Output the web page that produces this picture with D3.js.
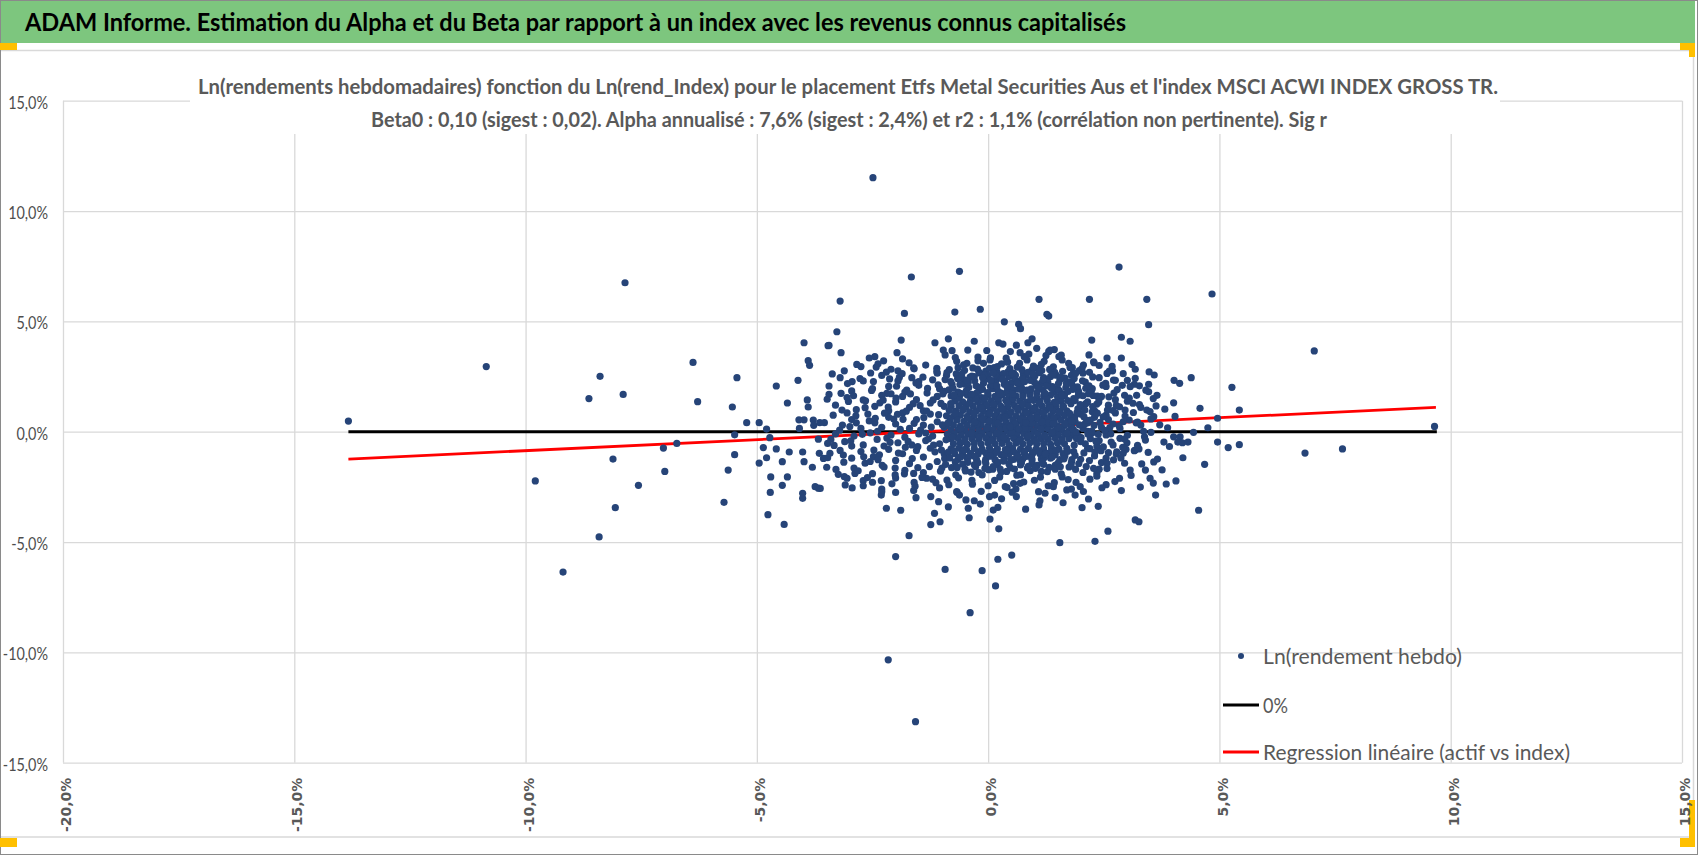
<!DOCTYPE html>
<html>
<head>
<meta charset="utf-8">
<script src="https://cdn.jsdelivr.net/npm/d3@7"></script>
<style>
  body { margin: 0; background: #fff; }
  svg { display: block; }
</style>
</head>
<body>
<svg width="1698" height="855"></svg>
<script>
// ---- data (values in %) ----
const headerText = "ADAM Informe. Estimation du Alpha et du Beta par rapport à un index avec les revenus connus capitalisés"
const titleLine1 = "Ln(rendements hebdomadaires) fonction du Ln(rend_Index) pour le placement Etfs Metal Securities Aus et l'index MSCI ACWI INDEX GROSS TR."
const titleLine2 = "Beta0 : 0,10 (sigest : 0,02).  Alpha annualisé : 7,6% (sigest : 2,4%) et r2 : 1,1% (corrélation non pertinente). Sig r"
const legendLabels = ["Ln(rendement hebdo)", "0%", "Regression linéaire (actif vs index)"]

const xTicks = [-20, -15, -10, -5, 0, 5, 10, 15]
const yTicks = [-15, -10, -5, 0, 5, 10, 15]

const zeroX = [-13.83, 9.70]
const zeroY = [0, 0]
const regX = [-13.83, 9.68]
const regY = [-1.24, 1.10]

// isolated points, read one by one
const outerPoints = [
  [-13.83,0.48],[-10.85,2.95],[-7.85,6.75],[-8.39,2.51],[-8.63,1.50],[-7.89,1.69],[-6.38,3.14],[-5.43,2.45],
  [-6.28,1.36],[-5.53,1.12],[-5.22,0.41],[-4.95,0.41],[-4.79,0.12],[-5.48,-0.14],[-4.72,-0.27],[-6.73,-0.53],
  [-7.02,-0.74],[-8.11,-1.24],[-6.99,-1.80],[-9.79,-2.23],[-7.56,-2.43],[-8.06,-3.44],[-8.41,-4.77],[-9.19,-6.36],
  [-5.48,-1.04],[-5.62,-1.74],[-5.71,-3.20],[-4.86,-0.72],[-4.79,-1.18],[-4.95,-1.42],[-4.58,-0.78],[-4.45,-1.36],
  [-4.30,-0.92],[-4.70,-2.05],[-4.34,-2.05],[-4.45,-2.43],[-4.71,-2.75],[-4.76,-3.76],[-4.41,-4.20],[-4.58,2.07],
  [-4.34,1.30],[-4.11,2.33],[-3.98,4.03],[-3.89,3.22],[-3.86,3.01],[-3.91,1.44],[-3.89,1.12],[-4.09,0.54],
  [-3.98,0.54],[-4.08,0.15],[-3.78,0.53],[-3.77,0.29],[-3.64,0.41],[-3.54,0.41],[-3.67,-0.34],[-3.47,-0.53],
  [-4.01,-0.92],[-3.98,-1.36],[-3.80,-1.61],[-3.65,-0.98],[-3.47,-1.18],[-3.49,-1.61],[-3.74,-2.49],[-3.67,-2.56],
  [-4.01,-2.79],[-4.01,-3.02],[-3.46,3.90],[-3.44,2.07],[-3.44,1.69],
  [-2.49,11.51],[-1.66,7.01],[-0.62,7.27],[2.83,7.46],[-3.20,5.92],[-1.81,5.36],[-0.72,5.42],[-0.17,5.55],
  [1.10,6.00],[2.19,6.00],[1.27,5.32],[1.31,5.24],[0.35,4.98],[0.66,4.87],[0.70,4.67],[-3.27,4.53],
  [-3.44,3.91],[-3.18,3.58],[-1.88,4.15],[-1.97,3.58],[-2.57,3.34],[-2.38,3.08],[-3.11,2.76],[-2.94,2.27],
  [-3.18,1.74],[2.24,4.15],[2.88,4.28],[3.07,4.10],[2.88,3.34],[2.57,3.34],[2.18,3.48],[2.28,3.17],
  [-0.86,4.21],[-1.15,4.03],[-0.30,4.10],[0.23,4.03],[0.32,3.97],[0.86,4.03],[0.95,4.21],[1.05,3.78],
  [1.31,3.64],[1.43,3.72],[1.53,3.40],
  [-1.57,-13.14],[-2.16,-10.34],[-0.39,-8.20],[0.16,-6.99],[-0.13,-6.30],[-0.93,-6.24],[-2.00,-5.66],[0.21,-5.78],
  [0.51,-5.59],[-1.71,-4.71],[1.55,-5.03],[2.31,-4.97],[2.59,-4.51],[3.18,-4.00],[3.26,-4.08],[0.23,-4.40],
  [-1.24,-4.21],[-1.04,-4.08],[-1.16,-3.70],[-0.41,-3.90],[0.04,-3.96],[-2.20,-3.47],[-1.89,-3.56],[0.11,-3.55],
  [0.21,-3.43],[2.03,-3.44],[2.38,-3.38],[1.10,-3.32],[1.12,-3.13],[-2.94,-2.55],[-2.31,-2.87],[-2.00,-2.75],
  [-1.61,-2.67],[-1.56,-2.99],[-1.24,-2.94],[-1.07,-3.17],[-0.67,-2.75],[-0.48,-3.09],[-0.30,-3.13],[0.03,-2.94],
  [0.14,-2.87],[0.61,-2.94],[1.45,-2.99],[1.88,-2.87],[2.17,-3.05],[2.84,-2.11],[3.07,-1.74],[-3.63,-2.57],
  [-3.29,-1.71],[-3.24,-1.93],[-3.11,-2.04],[-3.05,-2.11],[-2.88,-1.89],[-2.70,-2.22],[-2.50,-2.29],[-2.66,-1.43],
  [2.98,-0.80],[3.18,-0.83],[2.92,-0.98],[2.77,-1.01],[2.71,-1.28],[2.95,-1.43],
  [4.84,6.24],[3.43,6.00],[3.47,4.85],[7.05,3.66],[2.69,2.76],[3.18,2.83],[3.59,2.57],[4.39,2.45],
  [4.02,2.33],[4.14,2.19],[5.27,2.01],[3.47,2.15],[3.27,2.08],[3.16,2.15],[3.01,2.33],[2.75,2.33],
  [2.54,2.19],[3.65,1.65],[3.57,1.50],[3.47,1.81],[4.01,1.31],[4.58,1.06],[5.43,0.98],[4.96,0.61],
  [3.58,0.68],[3.43,0.98],[3.50,0.91],[9.65,0.24],[3.88,0.18],[4.75,0.18],[4.44,-0.03],[3.52,-0.03],
  [4.01,-0.23],[4.15,-0.23],[4.10,-0.47],[4.20,-0.50],[4.32,-0.47],[3.80,-0.47],[4.96,-0.47],[5.19,-0.72],
  [5.43,-0.59],[6.85,-0.97],[7.66,-0.78],[4.68,-1.48],[3.58,-1.37],[3.66,-1.24],[3.40,-1.74],[3.50,-2.11],
  [3.85,-2.37],[4.06,-2.23],[3.62,-2.87],[4.55,-3.56],[3.16,-0.86],[3.26,-0.78],[3.38,-0.23],[3.40,-0.38],
  [3.23,0.43],[3.05,0.53],[2.92,0.45],[3.01,1.38],[3.13,1.29],[3.21,1.65],[2.84,1.13],[2.96,0.98]
]

// upper part of the cloud (about +1,7% to +3,7%)
const cloudUpper = [
  [-2.10,2.83],[-1.95,2.76],[-1.92,2.46],[-1.61,2.89],[-1.50,2.27],[-1.35,3.02],[-1.11,2.87],[-0.97,3.70],
  [-0.93,3.48],[-0.78,3.67],[-0.68,3.19],[-0.44,3.70],[-0.46,3.10],[-0.22,3.38],[-0.10,3.10],[0.04,3.25],
  [0.19,2.71],[0.48,3.63],[0.69,3.58],[0.84,3.25],[1.05,2.87],[1.34,3.70],[1.41,2.94],[1.74,3.10],
  [1.84,2.64],[2.06,3.02],[2.57,2.64],[2.71,2.34],[3.07,2.04],[-2.48,2.27],[-2.70,1.44],[-3.02,1.37],
  [-2.19,1.74],[-1.76,1.89],
  [-2.75,2.95],[-2.20,2.70],[-1.85,3.30],[-1.60,2.85],[-1.10,2.65],[-0.65,2.90],[-0.20,2.70],[0.05,3.35],
  [0.20,2.95],[0.42,3.15],[0.55,2.65],[0.78,3.40],[0.95,2.80],[1.15,3.05],[1.38,2.70],[1.60,3.25],
  [1.82,2.90],[2.05,2.65],[2.40,3.00],[2.62,2.75],[-0.05,2.75],[0.68,3.10],[-2.45,3.40],[1.25,3.45],
  [-3.20,2.45],[-2.95,1.85],[-2.70,2.30],[-2.50,1.95],[-2.30,2.55],[-2.15,2.05],[-1.95,2.30],[-1.80,1.80],
  [-1.65,2.45],[-1.50,2.10],[-1.32,1.75],[-1.20,2.35],[-1.05,1.95],[-0.90,2.55],[-0.78,2.15],[-0.65,1.80],
  [-0.55,2.40],[-0.42,2.00],[-0.30,2.50],[-0.20,1.85],[-0.10,2.20],[0.00,2.55],[0.10,1.95],[0.18,2.35],
  [0.28,1.75],[0.35,2.15],[0.45,2.50],[0.55,1.90],[0.62,2.30],[0.72,2.00],[0.82,2.55],[0.90,1.80],
  [1.00,2.25],[1.10,1.95],[1.20,2.45],[1.30,2.10],[1.42,1.80],[1.55,2.35],[1.68,2.00],[1.80,2.55],
  [1.95,1.85],[2.10,2.25],[2.25,1.95],[2.40,2.45],[2.55,2.05],[2.72,1.75],[2.90,2.10],[-2.10,1.72],
  [0.40,1.78],[1.62,1.72],[-0.85,1.90],[-0.50,2.15],[-0.25,1.75],[0.05,2.05],[0.25,2.50],[0.50,2.20],
  [0.75,1.75],[0.95,2.40],[1.15,2.20],[1.35,2.50],[1.50,1.95],[1.75,2.25],[-0.60,2.55],[0.15,2.20],
  [1.05,1.75]
]

// dense middle of the cloud (about +1,7% to -0,7%)
const cloudMiddle = [
  [-3.30,1.20],[-3.05,1.55],[-2.85,1.00],[-2.65,1.40],[-2.45,1.15],[-2.30,1.65],[-2.15,0.95],[-2.00,1.35],
  [-1.85,1.60],[-1.70,1.10],[-1.55,1.45],[-1.40,0.95],[-1.25,1.30],[-1.10,1.60],[-0.95,1.15],
  [-0.80,1.62],[-0.62,1.58],[-0.45,1.66],[-0.30,1.60],[-0.15,1.55],[0.00,1.65],[0.15,1.60],[0.30,1.68],
  [0.45,1.57],[0.60,1.63],[0.75,1.60],[0.90,1.67],[1.05,1.56],[1.20,1.62],[1.35,1.66],[1.50,1.58],[1.65,1.64],
  [-0.72,1.40],[-0.55,1.35],[-0.38,1.42],[-0.22,1.37],[-0.08,1.33],[0.07,1.40],[0.22,1.36],[0.38,1.43],
  [0.52,1.35],[0.68,1.39],[0.83,1.34],[0.98,1.42],[1.12,1.37],[1.28,1.40],[1.43,1.33],[1.58,1.38],[1.72,1.41],
  [-0.80,1.15],[-0.63,1.18],[-0.48,1.12],[-0.33,1.17],[-0.18,1.13],[-0.03,1.19],[0.12,1.14],[0.27,1.16],
  [0.42,1.11],[0.57,1.18],[0.72,1.14],[0.87,1.17],[1.02,1.12],[1.17,1.16],[1.32,1.19],[1.47,1.13],[1.62,1.17],
  [-0.70,0.93],[-0.55,0.96],[-0.40,0.90],[-0.25,0.95],[-0.10,0.92],[0.05,0.97],[0.20,0.91],[0.35,0.94],
  [0.50,0.90],[0.65,0.96],[0.80,0.92],[0.95,0.95],[1.10,0.90],[1.25,0.97],[1.40,0.93],[1.55,0.91],[1.70,0.95],
  [1.85,1.50],[2.00,1.10],[2.15,1.35],[2.30,0.95],[2.45,1.60],[2.60,1.20],[2.75,1.45],[2.95,1.65],
  [3.30,1.10],[1.95,1.65],[2.35,1.25],
  [-3.35,0.75],[-3.15,0.30],[-2.95,0.55],[-2.75,0.15],[-2.60,0.80],[-2.45,0.40],[-2.30,0.20],[-2.15,0.65],
  [-2.00,0.35],[-1.85,0.85],[-1.70,0.15],[-1.55,0.55],[-1.40,0.30],[-1.25,0.80],[-1.10,0.45],[-0.95,0.20],
  [-3.05,0.85],[-2.85,0.40],
  [-0.90,0.72],[-0.75,0.70],[-0.60,0.75],[-0.45,0.69],[-0.30,0.73],[-0.15,0.70],[0.00,0.76],[0.15,0.71],
  [0.30,0.68],[0.45,0.74],[0.60,0.70],[0.75,0.73],[0.90,0.69],[1.05,0.75],[1.20,0.71],[1.35,0.72],
  [1.50,0.68],[1.65,0.74],[1.80,0.70],
  [-0.82,0.50],[-0.67,0.53],[-0.52,0.47],[-0.37,0.52],[-0.22,0.48],[-0.07,0.54],[0.08,0.49],[0.23,0.51],
  [0.38,0.46],[0.53,0.53],[0.68,0.49],[0.83,0.52],[0.98,0.47],[1.13,0.51],[1.28,0.54],[1.43,0.48],
  [1.58,0.52],[1.73,0.50],[1.88,0.46],
  [-0.90,0.28],[-0.75,0.30],[-0.60,0.25],[-0.45,0.29],[-0.30,0.26],[-0.15,0.31],[0.00,0.27],[0.15,0.29],
  [0.30,0.24],[0.45,0.30],[0.60,0.27],[0.75,0.32],[0.90,0.26],[1.05,0.28],[1.20,0.25],[1.35,0.30],
  [1.50,0.27],[1.65,0.29],[1.80,0.24],
  [-0.80,0.08],[-0.65,0.10],[-0.50,0.05],[-0.35,0.09],[-0.20,0.06],[-0.05,0.11],[0.10,0.07],[0.25,0.09],
  [0.40,0.04],[0.55,0.10],[0.70,0.06],[0.85,0.10],[1.00,0.05],[1.15,0.08],[1.30,0.11],[1.45,0.06],
  [1.60,0.09],[1.75,0.05],
  [2.00,0.80],[2.15,0.40],[2.30,0.65],[2.45,0.20],[2.60,0.55],[2.75,0.85],[2.85,0.15],[2.05,0.15],
  [2.25,0.90],[2.55,0.75],[3.30,0.30],[2.70,0.35],
  [-3.30,-0.10],[-3.10,-0.45],[-2.90,-0.20],[-2.70,-0.60],[-2.55,-0.05],[-2.40,-0.35],[-2.25,-0.65],[-2.10,-0.15],
  [-1.95,-0.50],[-1.80,-0.25],[-1.65,-0.60],[-1.50,-0.10],[-1.35,-0.40],[-1.20,-0.20],[-1.05,-0.55],[-2.95,-0.65],
  [-3.40,-0.35],
  [-0.88,-0.12],[-0.73,-0.10],[-0.58,-0.15],[-0.43,-0.11],[-0.28,-0.14],[-0.13,-0.09],[0.02,-0.13],[0.17,-0.11],
  [0.32,-0.16],[0.47,-0.10],[0.62,-0.13],[0.77,-0.08],[0.92,-0.14],[1.07,-0.12],[1.22,-0.15],[1.37,-0.10],
  [1.52,-0.13],[1.67,-0.11],[1.82,-0.16],
  [-0.80,-0.33],[-0.65,-0.30],[-0.50,-0.35],[-0.35,-0.31],[-0.20,-0.34],[-0.05,-0.29],[0.10,-0.33],[0.25,-0.31],
  [0.40,-0.36],[0.55,-0.30],[0.70,-0.33],[0.85,-0.28],[1.00,-0.34],[1.15,-0.32],[1.30,-0.35],[1.45,-0.30],
  [1.60,-0.33],[1.75,-0.31],
  [-0.75,-0.55],[-0.60,-0.52],[-0.45,-0.57],[-0.30,-0.53],[-0.15,-0.56],[0.00,-0.51],[0.15,-0.55],[0.30,-0.53],
  [0.45,-0.58],[0.60,-0.52],[0.75,-0.55],[0.90,-0.50],[1.05,-0.56],[1.20,-0.54],[1.35,-0.57],[1.50,-0.52],
  [1.65,-0.55],
  [1.95,-0.20],[2.10,-0.55],[2.25,-0.05],[2.40,-0.40],[2.55,-0.15],[2.70,-0.60],[2.85,-0.30],[2.00,-0.45],
  [2.35,-0.65],[2.65,-0.10],[3.00,-0.50]
]

// lower part of the cloud (about -0,7% to -2,7%)
const cloudLower = [
  [-3.20,-0.85],[-2.95,-1.20],[-2.75,-0.90],[-2.55,-1.35],[-2.35,-1.05],[-2.15,-0.80],[-2.00,-1.30],[-1.85,-1.00],
  [-1.70,-1.45],[-1.55,-0.85],[-1.40,-1.15],[-1.25,-0.75],[-1.10,-1.35],[-0.95,-1.00],
  [-0.80,-0.78],[-0.63,-0.75],[-0.47,-0.80],[-0.30,-0.76],[-0.13,-0.79],[0.03,-0.74],[0.20,-0.78],[0.37,-0.81],
  [0.53,-0.75],[0.70,-0.79],[0.87,-0.76],[1.03,-0.80],[1.20,-0.77],[1.37,-0.74],[1.53,-0.79],[1.70,-0.76],
  [-0.72,-1.00],[-0.55,-1.03],[-0.38,-0.98],[-0.22,-1.02],[-0.05,-0.97],[0.12,-1.01],[0.28,-1.04],[0.45,-0.99],
  [0.62,-1.02],[0.78,-0.97],[0.95,-1.03],[1.12,-1.00],[1.28,-0.98],[1.45,-1.03],[1.62,-0.99],
  [-0.65,-1.25],[-0.45,-1.22],[-0.25,-1.28],[-0.05,-1.24],[0.15,-1.27],[0.35,-1.21],[0.55,-1.26],[0.75,-1.23],
  [0.95,-1.28],[1.15,-1.24],[1.35,-1.20],[1.55,-1.27],
  [-0.55,-1.47],[-0.30,-1.50],[-0.05,-1.44],[0.20,-1.49],[0.45,-1.46],[0.70,-1.51],[0.95,-1.45],[1.20,-1.48],
  [1.45,-1.52],
  [1.85,-0.90],[2.00,-1.25],[2.15,-0.75],[2.30,-1.10],[2.45,-1.40],[2.60,-0.95],[1.80,-1.40],[2.40,-0.80],
  [2.55,-1.20],
  [-2.90,-1.65],[-2.50,-1.90],[-2.25,-1.60],[-2.00,-2.10],[-1.80,-1.75],[-1.60,-2.30],[-1.40,-1.85],[-1.20,-2.15],
  [-1.00,-1.65],[-0.85,-2.40],[-0.70,-1.95],[-0.50,-1.70],[-0.35,-2.20],[-0.20,-1.85],[0.00,-2.45],[0.10,-1.70],
  [0.25,-2.05],[0.40,-1.80],[0.55,-2.35],[0.70,-1.95],[0.85,-1.65],[1.00,-2.20],[1.15,-1.80],[1.30,-2.45],
  [1.45,-1.70],[1.60,-2.05],[1.75,-1.60],[1.90,-2.30],[2.05,-1.85],[2.20,-2.15],[2.40,-1.70],[2.55,-2.40],
  [-2.70,-2.45],[-1.05,-2.55],[0.60,-2.60],[1.80,-2.60],[-0.15,-2.70],[-2.30,-2.60],
  [-3.42,-0.98],[-3.13,-1.06],[-2.48,-1.13],[-2.30,-2.72],[-2.01,-1.96],[-1.61,-1.89],[-1.33,-2.11],[-0.89,-2.19],
  [-0.68,-2.72],[-0.43,-3.47],[0.37,-2.49],[0.69,-2.34],[1.09,-2.72],[1.41,-2.49],[1.70,-2.64],[1.99,-2.49],
  [2.35,-1.89],[2.57,-1.43],[2.78,-0.91]
]

// more points filling the cloud, placed irregularly
const cloudFill = [
  [-3.37,2.62],[-3.21,0.07],[-3.12,-1.38],[-3.04,2.18],[-2.97,-0.41],[-2.91,1.63],[-2.86,0.72],[-2.81,-1.77],
  [-2.77,2.41],[-2.72,-0.12],[-2.66,1.09],[-2.61,-2.08],[-2.57,0.49],[-2.52,1.87],[-2.47,-0.83],[-2.42,2.93],
  [-2.39,0.02],[-2.34,1.31],[-2.29,-1.52],[-2.24,0.84],[-2.19,-0.29],[-2.13,2.39],[-2.08,-2.36],[-2.04,0.57],
  [-1.99,1.52],[-1.94,-0.97],[-1.90,0.11],[-1.86,2.63],[-1.81,-1.91],[-1.77,0.93],[-1.73,-0.44],[-1.68,1.71],
  [-1.64,-1.22],[-1.60,0.38],[-1.56,2.21],[-1.52,-0.68],[-1.47,1.18],[-1.43,-2.07],[-1.39,0.64],[-1.35,-0.06],
  [-1.31,1.96],[-1.27,-1.58],[-1.23,0.21],[-1.19,1.44],[-1.15,-0.91],[-1.11,2.73],[-1.07,0.77],[-1.03,-1.79],
  [-0.99,0.31],[-0.95,1.83],[-3.48,1.47],[-3.33,-0.62],[-3.16,0.98],[-3.09,-2.41],[-2.99,0.23],[-2.69,-1.14],
  [-2.54,2.66],[-2.31,-2.22],[-2.16,1.12],[-2.01,-1.65],[-1.84,0.56],[-1.71,3.12],[-1.58,-2.47],[-1.41,2.47],
  [-1.29,-0.33],[-1.13,-2.31],[-1.02,1.28],[-3.56,-1.21],[-2.84,3.05],[-2.26,3.21],
  [-0.93,2.36],[-0.84,2.81],[-0.76,1.97],[-0.69,2.62],[-0.61,2.14],[-0.53,3.03],[-0.47,1.86],[-0.39,2.47],
  [-0.33,2.89],[-0.26,2.08],[-0.18,2.66],[-0.12,1.92],[-0.04,2.39],[0.03,2.87],[0.09,2.12],[0.16,2.58],
  [0.22,1.83],[0.29,3.07],[0.36,2.29],[0.43,2.71],[0.49,1.96],[0.57,2.43],[0.63,2.93],[0.69,2.16],
  [0.76,2.61],[0.84,1.88],[0.91,2.33],[0.98,2.97],[1.04,2.11],[1.11,2.68],[1.18,1.91],[1.26,2.37],
  [1.33,2.82],[1.39,2.04],[1.47,2.56],[1.54,1.86],[1.61,2.74],[1.69,2.19],[1.77,2.91],[1.86,2.41],
  [1.93,2.03],[-0.22,3.21],[0.39,3.33],[0.88,3.52],[1.58,3.47],[-0.71,3.36],[0.61,3.92],[-0.03,3.68],
  [1.21,3.19],[1.97,2.77],
  [-0.94,-1.21],[-0.86,-0.93],[-0.79,-1.63],[-0.71,-1.37],[-0.64,-2.09],[-0.56,-0.89],[-0.49,-1.78],[-0.42,-1.14],
  [-0.34,-2.38],[-0.27,-1.59],[-0.21,-0.91],[-0.13,-1.96],[-0.06,-1.33],[0.01,-1.72],[0.07,-0.88],[0.14,-2.21],
  [0.21,-1.39],[0.28,-1.83],[0.34,-1.07],[0.41,-2.53],[0.48,-1.64],[0.56,-0.92],[0.62,-1.97],[0.69,-1.31],
  [0.77,-2.28],[0.83,-1.12],[0.91,-1.77],[0.98,-0.94],[1.06,-1.53],[1.13,-2.06],[1.21,-1.18],[1.28,-1.81],
  [1.36,-0.91],[1.43,-2.31],[1.51,-1.42],[1.58,-1.91],[1.66,-1.09],[1.73,-2.17],[1.81,-1.27],[1.89,-1.71],
  [-0.62,-2.87],[0.29,-3.04],[1.23,-2.79],[-0.17,-3.28],[0.81,-3.51],[1.62,-3.22],[-0.86,-3.41],[0.52,-2.74],
  [2.03,2.87],[2.08,0.33],[2.12,-1.58],[2.17,1.72],[2.21,-0.31],[2.26,2.48],[2.31,0.79],[2.35,-2.02],
  [2.39,1.33],[2.44,-0.86],[2.48,2.11],[2.52,0.06],[2.57,-1.67],[2.61,1.58],[2.66,-0.47],[2.70,0.96],
  [2.74,-2.26],[2.79,1.91],[2.83,0.27],[2.87,-1.19],[2.92,2.63],[2.96,0.71],[3.01,-0.16],[3.05,1.52],
  [3.09,-1.98],[3.14,0.87],[3.18,2.42],[3.23,-0.62],[3.27,1.23],[3.32,-1.46],[3.36,0.02],[3.41,1.88],
  [3.46,-0.94],[3.52,0.58],[3.57,-2.33],[3.63,1.17],[2.06,-2.71],[2.29,3.13],[2.46,-2.54],[2.68,2.96],
  [2.88,-2.67],[3.11,3.04],[3.29,-2.51],[3.48,2.71],[3.71,0.31],[3.76,-1.73],[3.82,1.02],[3.92,-0.67],
  [4.04,0.69],[4.21,-1.18],[2.15,0.02],[2.58,0.98],[2.95,-0.33],[2.38,-0.12],[3.20,0.40],
  [-0.87,0.39],[-0.81,1.27],[-0.77,-0.23],[-0.71,0.83],[-0.66,1.51],[-0.59,0.14],[-0.54,1.03],[-0.51,-0.44],
  [-0.44,0.61],[-0.41,1.29],[-0.36,-0.07],[-0.31,0.87],[-0.27,1.47],[-0.24,0.35],[-0.19,-0.22],[-0.14,1.07],
  [-0.11,0.59],[-0.07,1.53],[-0.02,0.17],[0.04,0.83],[0.07,-0.42],[0.11,1.25],[0.14,0.41],[0.19,-0.06],
  [0.22,1.51],[0.26,0.62],[0.31,1.03],[0.34,-0.24],[0.39,0.19],[0.42,1.29],[0.46,0.81],[0.51,-0.03],
  [0.54,1.49],[0.58,0.37],[0.63,1.06],[0.67,-0.43],[0.71,0.58],[0.74,1.27],[0.79,0.16],[0.83,0.87],
  [0.86,-0.19],[0.92,1.46],[0.95,0.38],[0.99,1.04],[1.03,-0.44],[1.07,0.61],[1.11,1.29],[1.14,0.14],
  [1.19,0.86],[1.23,-0.21],[1.26,1.53],[1.31,0.41],[1.34,1.08],[1.39,-0.04],[1.42,0.63],[1.46,1.31],
  [1.51,0.19],[1.54,0.89],[1.59,-0.41],[1.63,1.12],[1.67,0.36],[1.71,-0.07],[1.76,0.83],[1.79,1.27],
  [1.84,0.11],[1.87,0.64],[1.91,-0.31],[1.94,1.04],[-0.91,-0.37],[-0.84,0.97],[0.48,0.22],[0.21,0.39],
  [0.93,0.62],[0.66,0.12],[1.17,0.44],[0.37,0.66],[0.81,0.41],[0.02,0.47],[-0.29,0.43],[1.41,0.37]
]

// extra points thickening the edges of the core
const cloudEdges = [
  [-1.08,2.12],[-0.98,1.71],[-0.89,2.68],[-0.81,2.27],[-0.74,1.66],[-0.66,2.41],[-0.58,1.73],[-0.51,2.78],
  [-0.43,2.23],[-0.36,1.69],[-0.29,2.31],[-0.23,2.84],[-0.15,2.02],[-0.08,2.58],[-0.01,1.77],[0.06,2.33],
  [0.13,2.91],[0.19,2.07],[0.26,1.71],[0.33,2.63],[0.41,2.02],[0.47,2.86],[0.53,1.69],[0.59,2.56],
  [0.66,1.93],[0.73,2.81],[0.79,2.27],[0.86,2.69],[0.93,1.94],[1.01,2.52],[1.08,2.01],[1.16,2.77],
  [1.23,1.74],[1.29,2.24],[1.37,1.97],[1.44,2.69],[1.52,2.18],[1.59,1.66],[1.66,2.43],[1.73,1.83],
  [1.81,2.16],[1.89,2.64],[1.96,1.76],[2.04,2.31],[2.11,1.97],[2.19,2.69],[2.27,1.64],
  [-1.01,-0.83],[-0.92,-1.48],[-0.83,-1.19],[-0.74,-0.87],[-0.67,-1.62],[-0.59,-1.13],[-0.52,-0.81],[-0.44,-1.39],
  [-0.37,-1.83],[-0.29,-1.12],[-0.22,-1.41],[-0.14,-0.87],[-0.07,-1.67],[0.04,-1.11],[0.11,-1.58],[0.18,-0.93],
  [0.26,-1.69],[0.33,-1.33],[0.41,-0.84],[0.49,-1.27],[0.57,-1.69],[0.64,-1.09],[0.72,-1.41],[0.79,-0.88],
  [0.87,-1.57],[0.94,-1.19],[1.02,-1.66],[1.09,-0.86],[1.17,-1.38],[1.24,-1.02],[1.32,-1.62],[1.39,-1.13],
  [1.47,-0.84],[1.56,-1.59],[1.64,-1.23],[1.72,-0.89],[1.79,-1.53],[1.88,-1.07],[1.96,-1.44],[2.07,-0.96],
  [2.19,-1.31],[2.28,-1.66],
  [-2.44,0.61],[-2.27,1.43],[-2.12,-0.48],[-1.96,0.79],[-1.79,-0.71],[-1.62,1.27],[-1.46,0.07],[-1.33,0.93],
  [-1.18,-0.61],[-2.38,-1.27],[2.21,0.53],[2.36,1.61],[2.49,-0.69],[2.63,0.19],[2.77,1.19],[2.91,-0.71],
  [2.49,0.67],[2.11,1.27],[-1.98,2.06],[-1.52,-1.63],
  [1.83,1.92],[1.88,1.41],[1.92,0.87],[1.97,0.31],[2.01,-0.27],[2.05,1.63],[2.09,0.98],[2.13,0.51],
  [2.16,-0.12],[2.20,-0.77],[2.23,1.88],[2.26,1.14],[2.29,0.29],[2.33,-0.43],[2.36,0.84],[2.40,1.47],
  [1.86,-0.61],[1.99,1.23],[2.18,2.08],[2.31,-0.93],[1.81,0.47],[2.07,0.68],[1.90,-0.02],[2.24,0.03],
  [2.42,0.42],
  [-0.57,2.61],[-0.35,2.52],[-0.12,2.44],[0.11,2.66],[0.31,2.38],[0.52,2.63],[0.74,2.41],[0.97,2.62],
  [1.19,2.36],[1.41,2.59],[1.57,2.47],[-0.46,2.33],[0.63,2.20],[1.27,2.07]
]

// ---- layout ----
const svg = d3.select("svg")
const width = +svg.attr("width")
const height = +svg.attr("height")
const plot = { left: 63, right: 1682, top: 100.7, bottom: 762.7 }
const grey = "#595959"
const mainFont = "Lato, 'Open Sans', sans-serif"

const xScale = d3.scaleLinear().domain([-20, 15]).range([plot.left, plot.right])
const yScale = d3.scaleLinear().domain([-15, 15]).range([plot.bottom, plot.top])

const fr = d3.formatLocale({ decimal: ",", thousands: " ", grouping: [3], currency: ["", "€"], minus: "-" })
const pct = v => fr.format(".1f")(v) + "%"

// frame and green header
svg.append("rect").attr("width", width).attr("height", height).attr("fill", "#fff")
svg.append("rect").attr("x", 0).attr("y", 0).attr("width", 1695).attr("height", 43).attr("fill", "#7dc67e")
svg.append("text")
    .text(headerText)
    .attr("x", 25).attr("y", 22).attr("dy", "0.36em")
    .attr("font-family", mainFont).attr("font-size", 24).attr("font-weight", "bold").attr("fill", "#000")
    .attr("textLength", 1101).attr("lengthAdjust", "spacingAndGlyphs")

// chart area border
const frame = svg.append("g").attr("stroke", "#d9d9d9").attr("stroke-width", 1.5).attr("fill", "none")
frame.append("path").attr("d", "M0,50.5 H1693.5 V837 H0")
svg.append("rect").attr("x", 0.5).attr("y", 0.5).attr("width", width - 1).attr("height", height - 1)
    .attr("fill", "none").attr("stroke", "#8a8a8a").attr("stroke-width", 1)

// yellow handles
const handles = svg.append("g").attr("fill", "#ffc000")
handles.append("rect").attr("x", 0).attr("y", 43).attr("width", 17).attr("height", 7)
handles.append("rect").attr("x", 1680).attr("y", 43).attr("width", 15).attr("height", 7)
handles.append("rect").attr("x", 1689).attr("y", 43).attr("width", 6).attr("height", 14)
handles.append("rect").attr("x", 0).attr("y", 838).attr("width", 17).attr("height", 9)
handles.append("rect").attr("x", 1680).attr("y", 838).attr("width", 15).attr("height", 9)
handles.append("rect").attr("x", 1689).attr("y", 800).attr("width", 6).attr("height", 47)

// axes + grid
const xAxisG = svg.append("g")
    .attr("transform", `translate(0,${plot.bottom})`)
    .call(d3.axisBottom(xScale).tickValues(xTicks).tickFormat(pct).tickSize(-(plot.bottom - plot.top)))
xAxisG.select(".domain").remove()
xAxisG.selectAll(".tick line").attr("stroke", "#d9d9d9").attr("stroke-width", 1.3)
xAxisG.selectAll(".tick text")
    .attr("transform", "rotate(-90)")
    .attr("text-anchor", "end")
    .attr("x", -15).attr("y", 0).attr("dy", "0.55em")
    .attr("fill", grey)
    .style("font-family", "'DejaVu Sans', Verdana, sans-serif")
    .style("font-weight", "bold")
    .style("font-size", "14px")

const yAxisG = svg.append("g")
    .attr("transform", `translate(${plot.left},0)`)
    .call(d3.axisLeft(yScale).tickValues(yTicks).tickFormat(pct).tickSize(-(plot.right - plot.left)).tickPadding(15))
yAxisG.select(".domain").remove()
yAxisG.selectAll(".tick line").attr("stroke", "#d9d9d9").attr("stroke-width", 1.3)
yAxisG.selectAll(".tick text")
    .attr("dy", "0.42em")
    .attr("fill", "#4d4d4d")
    .style("font-family", "Lato, 'Liberation Sans', sans-serif")
    .style("font-size", "18px")
    // narrow look of the original labels
    .each(function () {
        d3.select(this).attr("textLength", this.getComputedTextLength() * 0.8).attr("lengthAdjust", "spacingAndGlyphs")
    })

// chart title (white box over the top gridline)
svg.append("rect").attr("x", 190).attr("y", 68).attr("width", 1310).attr("height", 66).attr("fill", "#fff")
const titleG = svg.append("g")
    .attr("font-family", mainFont).attr("font-size", 21).attr("font-weight", "bold").attr("fill", grey)
    .attr("text-anchor", "middle")
titleG.append("text").text(titleLine1)
    .attr("x", 848).attr("y", 87).attr("dy", "0.35em")
    .attr("textLength", 1300).attr("lengthAdjust", "spacingAndGlyphs")
titleG.append("text").text(titleLine2)
    .attr("x", 849).attr("y", 120).attr("dy", "0.35em")
    .attr("textLength", 956).attr("lengthAdjust", "spacingAndGlyphs")

// lines
const line = d3.line().x(d => xScale(d[0])).y(d => yScale(d[1]))
svg.append("path")
    .datum(d3.zip(zeroX, zeroY))
    .attr("d", line).attr("stroke", "#000").attr("stroke-width", 3).attr("fill", "none")
svg.append("path")
    .datum(d3.zip(regX, regY))
    .attr("d", line).attr("stroke", "#ff0000").attr("stroke-width", 2.8).attr("fill", "none")

// scatter points
const points = [...outerPoints, ...cloudUpper, ...cloudMiddle, ...cloudLower, ...cloudFill, ...cloudEdges]
svg.append("g").selectAll("circle").data(points)
    .enter().append("circle")
    .attr("cx", d => xScale(d[0]))
    .attr("cy", d => yScale(d[1]))
    .attr("r", 3.6)
    .attr("fill", "#264478")

// legend
const legendY = [656, 705, 752]
const legendW = [199, 25, 307]
const legend = svg.append("g")
legend.append("circle").attr("cx", 1241).attr("cy", legendY[0]).attr("r", 3).attr("fill", "#264478")
legend.append("line").attr("x1", 1223).attr("x2", 1259).attr("y1", legendY[1]).attr("y2", legendY[1])
    .attr("stroke", "#000").attr("stroke-width", 3)
legend.append("line").attr("x1", 1223).attr("x2", 1259).attr("y1", legendY[2]).attr("y2", legendY[2])
    .attr("stroke", "#ff0000").attr("stroke-width", 3)
legend.selectAll("text").data(legendLabels)
    .enter().append("text")
    .text(d => d)
    .attr("x", 1263)
    .attr("y", (d, i) => legendY[i])
    .attr("dy", "0.36em")
    .attr("font-family", mainFont).attr("font-size", 22).attr("fill", grey)
    .attr("textLength", (d, i) => legendW[i]).attr("lengthAdjust", "spacingAndGlyphs")
</script>
</body>
</html>
